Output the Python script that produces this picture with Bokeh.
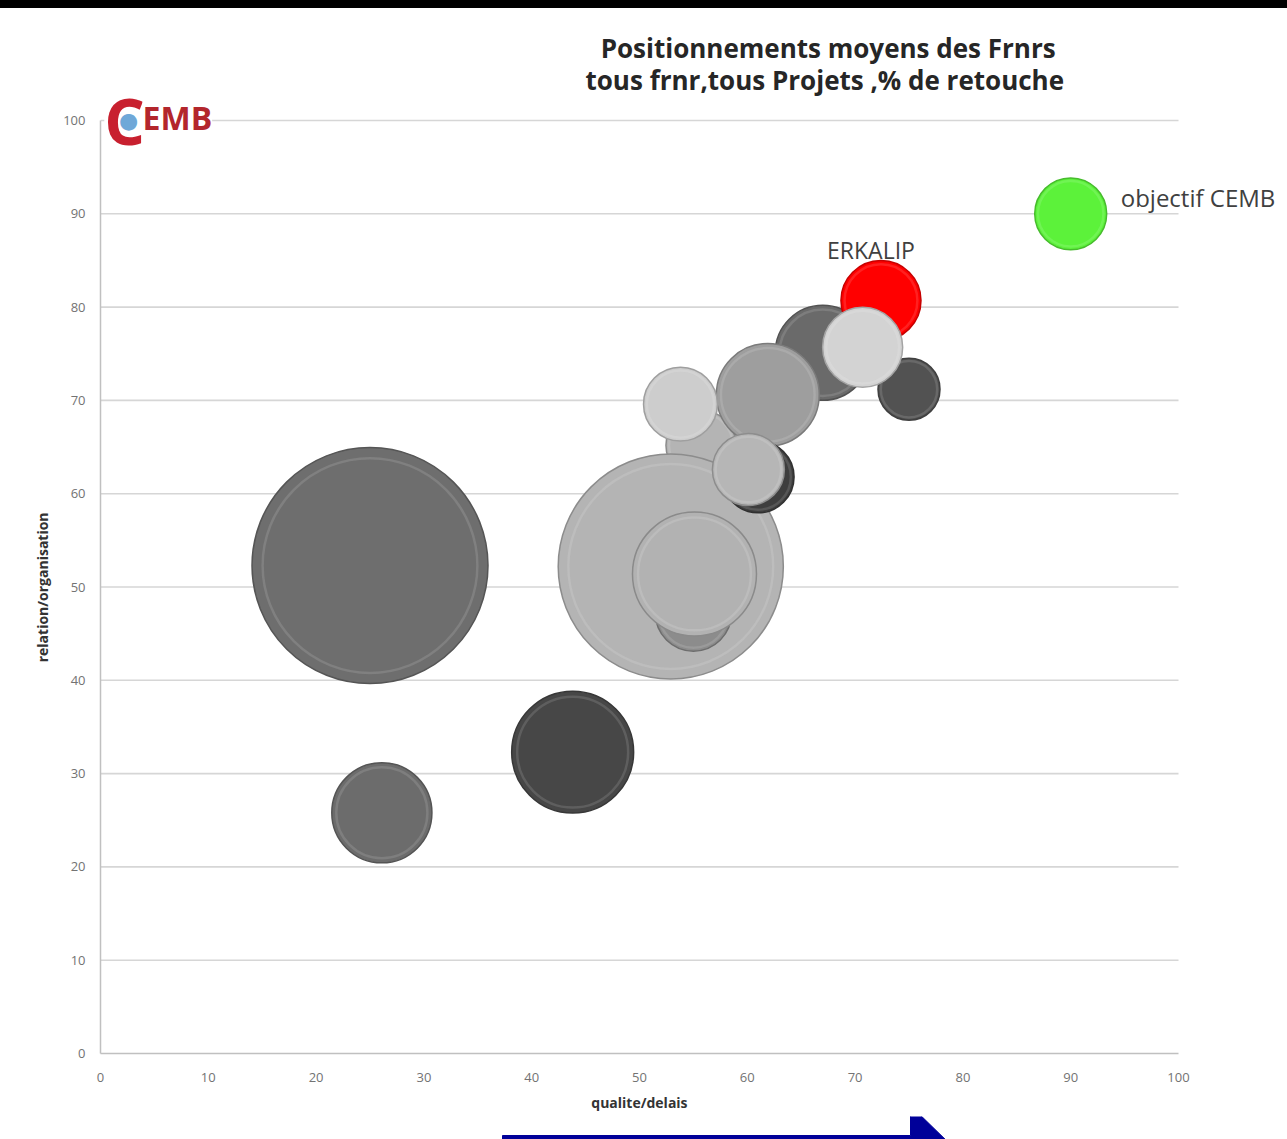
import numpy as np
from bokeh.plotting import figure
from bokeh.layouts import column
from bokeh.models import ColumnDataSource, Label, FixedTicker, Range1d, Div
from bokeh.embed import file_html
from bokeh.resources import INLINE

# ---------------- data ----------------
title_lines = ["Positionnements moyens des Frnrs",
               "tous  frnr,tous Projets ,% de retouche"]
x_label = "qualite/delais"
y_label = "relation/organisation"
tick_values = [0, 10, 20, 30, 40, 50, 60, 70, 80, 90, 100]
axis_min, axis_max = 0, 100

# fournisseurs (drawing order as in the original chart)
qualite = [25.0, 43.8, 26.1, 55.7, 67.0, 61.9, 53.8, 52.9, 55.0, 55.1, 61.0, 60.1, 72.4, 75.0, 70.7, 90.0]
relation = [52.3, 32.3, 25.8, 65.2, 75.1, 70.6, 69.6, 52.2, 47.2, 51.4, 61.8, 62.6, 80.7, 71.2, 75.7, 90.0]
retouche = [100, 26.7, 18.0, 8.8, 16.2, 19.0, 9.8, 91, 10.4, 27.6, 9.3, 9.3, 11.5, 6.9, 11.5, 9.3]
noms = ["", "", "", "", "", "", "", "", "", "", "", "", "ERKALIP", "", "", "objectif CEMB"]
couleurs = ["#6e6e6e", "#474747", "#6c6c6c", "#b4b4b4", "#6a6a6a", "#9e9e9e", "#cdcdcd", "#b4b4b4",
            "#8c8c8c", "#b2b2b2", "#3e3e3e", "#b6b6b6", "#ff0000", "#525252", "#d3d3d3", "#5cf23a"]


def shade(hexc, f):
    r, g, b = (int(hexc[i:i + 2], 16) for i in (1, 3, 5))
    if f < 1:
        r, g, b = (int(c * f) for c in (r, g, b))
    else:
        r, g, b = (int(c + (255 - c) * (f - 1)) for c in (r, g, b))
    return "#%02x%02x%02x" % (r, g, b)


# bubble area proportional to value
k = 23.6
rows = dict(x=[], y=[], size=[], fill=[], falpha=[], line=[], lalpha=[], lw=[])
for q, r, v, c in zip(qualite, relation, retouche, couleurs):
    d = k * np.sqrt(v)
    rows["x"].append(q); rows["y"].append(r); rows["size"].append(d)
    rows["fill"].append(c); rows["falpha"].append(1.0)
    rows["line"].append(shade(c, 0.78)); rows["lalpha"].append(1.0); rows["lw"].append(1.5)
    rows["x"].append(q); rows["y"].append(r); rows["size"].append(d * 0.91)
    rows["fill"].append(c); rows["falpha"].append(0.0)
    rows["line"].append(shade(c, 1.25)); rows["lalpha"].append(0.5); rows["lw"].append(2.5)
src = ColumnDataSource(rows)

# ---------------- layout constants (pixels) ----------------
W, H = 1287, 1139
TOP_BAR = 8
LEFT = 100
BOTTOM = 63
FRAME_BOTTOM = 1053
MAIN_H = FRAME_BOTTOM - TOP_BAR + BOTTOM
SPLIT = TOP_BAR + MAIN_H
ARROW_H = H - SPLIT
px_x = 10.78           # px per unit
px_y = 9.33

x_end = axis_max + (W - LEFT - axis_max * px_x) / px_x
y_end = axis_max + (MAIN_H - BOTTOM - axis_max * px_y) / px_y

p = figure(width=W, height=MAIN_H, output_backend="svg", toolbar_location=None,
           x_range=Range1d(0, x_end), y_range=Range1d(0, y_end),
           min_border_left=LEFT, min_border_right=0, min_border_top=0, min_border_bottom=BOTTOM,
           margin=0)
p.outline_line_color = None
p.background_fill_color = "white"
p.border_fill_color = "white"
p.xgrid.grid_line_color = None
p.ygrid.grid_line_color = None

for ax in (p.xaxis[0], p.yaxis[0]):
    ax.ticker = FixedTicker(ticks=tick_values)
    ax.bounds = (axis_min, axis_max)
    ax.axis_line_color = "#c0c0c0"
    ax.axis_line_width = 1.5
    ax.major_tick_line_color = None
    ax.minor_tick_line_color = None
    ax.major_tick_out = 0
    ax.major_tick_in = 0
    ax.major_label_text_font = "Open Sans"
    ax.major_label_text_font_size = "13px"
    ax.major_label_text_color = "#737373"
    ax.axis_label_text_font = "Open Sans"
    ax.axis_label_text_font_style = "bold"
    ax.axis_label_text_font_size = "14px"
    ax.axis_label_text_color = "#333333"

# the frame extends beyond the 0-100 axes (room for title and labels); the axis
# labels are padded with no-break spaces so they stay centred on the 0-100 span
NBSP = "\u00a0"
p.xaxis.axis_label = x_label + NBSP * 30
p.yaxis.axis_label = y_label + NBSP * 31
p.xaxis.major_label_standoff = 19
p.xaxis.axis_label_standoff = 8
p.yaxis.major_label_standoff = 15
p.yaxis.axis_label_standoff = 8

# horizontal gridlines between 0 and 100 only
grid_y = tick_values[1:]
p.segment(x0=[axis_min] * len(grid_y), x1=[axis_max] * len(grid_y), y0=grid_y, y1=grid_y,
          line_color="#d6d6d6", line_width=1.6)

p.scatter(x="x", y="y", size="size", source=src, marker="circle",
          fill_color="fill", fill_alpha="falpha",
          line_color="line", line_alpha="lalpha", line_width="lw")

# labels of named bubbles
i_erk = noms.index("ERKALIP")
p.add_layout(Label(x=qualite[i_erk], y=relation[i_erk], text=noms[i_erk],
                   x_offset=-10, y_offset=51, text_align="center", text_baseline="middle",
                   text_font="Open Sans", text_font_size="23px", text_color="#404040"))
i_obj = noms.index("objectif CEMB")
p.add_layout(Label(x=qualite[i_obj], y=relation[i_obj], text=noms[i_obj],
                   x_offset=50, y_offset=16, text_align="left", text_baseline="middle",
                   text_font="Open Sans", text_font_size="24px", text_color="#404040"))

# title
p.add_layout(Label(x=67.5, y=107.8, text=title_lines[0], text_align="center", text_baseline="middle",
                   text_font="Open Sans", text_font_style="bold", text_font_size="26px",
                   text_color="#262626"))
p.add_layout(Label(x=67.5, y=104.3, text=title_lines[1], text_align="center", text_baseline="middle",
                   text_font="Open Sans", text_font_style="bold", text_font_size="26px",
                   text_color="#262626"))

# logo
p.add_layout(Label(x=0.35, y=100.0, text="C", text_align="left", text_baseline="middle",
                   text_font="Open Sans", text_font_style="bold", text_font_size="64px",
                   text_color="#c8202f", background_fill_color="white"))
p.add_layout(Label(x=2.6, y=100.0, text="●", text_align="center", text_baseline="middle",
                   text_font="DejaVu Sans", text_font_size="22px", text_color="#6fa8d8"))
p.add_layout(Label(x=3.9, y=100.3, text="EMB", text_align="left", text_baseline="middle",
                   text_font="Open Sans", text_font_style="bold", text_font_size="32px",
                   text_color="#b3262c", background_fill_color="white"))

# black frame at the top of the page
bar = Div(text="", width=W, height=TOP_BAR, margin=0,
          styles={"background-color": "#000000"})

# blue arrow under the chart (page pixel coordinates; frame aligned with the main frame)
pa = figure(width=W, height=ARROW_H, output_backend="svg", toolbar_location=None,
            x_range=Range1d(LEFT, W), y_range=Range1d(H, SPLIT),
            min_border=0, x_axis_location=None, y_axis_location=None, margin=0)
pa.outline_line_color = None
pa.grid.grid_line_color = None
pa.patch(x=[502, 910, 910, 950, 502], y=[1135, 1135, 1105, 1144, 1144],
         fill_color="#000099", line_color="#000099")

layout = column(bar, p, pa, spacing=0, margin=0)
open("out.html", "w").write(file_html(layout, INLINE))
